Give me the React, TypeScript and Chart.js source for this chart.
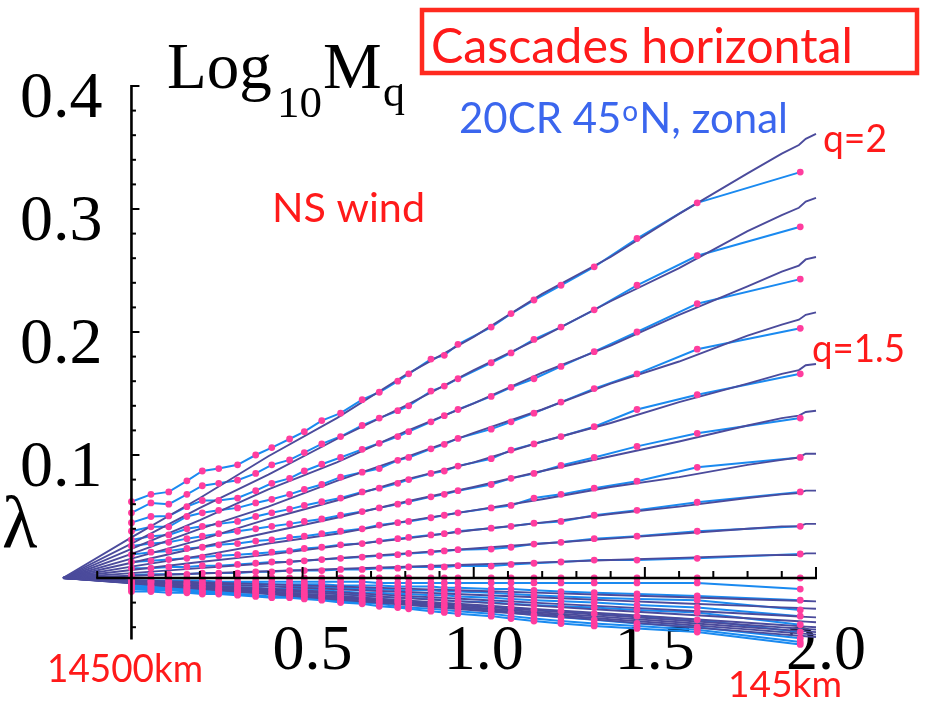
import React, { useEffect, useRef } from "react";
import { Chart, registerables } from "chart.js";

Chart.register(...registerables);

// log10(lambda) positions of the measured points (pink dots)
const X_DATA = [0, 0.057, 0.109, 0.162, 0.207, 0.255, 0.31, 0.363, 0.41, 0.462, 0.505, 0.556, 0.611, 0.674, 0.724, 0.778, 0.81, 0.875, 0.914, 0.954, 1.051, 1.109, 1.176, 1.255, 1.352, 1.477, 1.653, 1.954];
// log10(lambda) positions of the cascade-model curves (dark lines)
const X_MODEL = [-0.2, 0, 0.2, 0.4, 0.6, 0.8, 1.0, 1.2, 1.4, 1.6, 1.8, 1.9, 1.95, 1.97, 2.0];

const X_TICKS = [0.5, 1.0, 1.5, 2.0];
const Y_TICKS = [0.1, 0.2, 0.3, 0.4];

// measured log10 M_q, q = 2.0 ... 0.1
const D_Q20 = [0.062, 0.068, 0.07, 0.079, 0.087, 0.089, 0.092, 0.1, 0.106, 0.113, 0.119, 0.128, 0.134, 0.145, 0.151, 0.16, 0.166, 0.178, 0.181, 0.19, 0.204, 0.215, 0.226, 0.238, 0.253, 0.276, 0.305, 0.33];
const D_Q19 = [0.053, 0.061, 0.06, 0.068, 0.075, 0.077, 0.0795, 0.085, 0.092, 0.096, 0.102, 0.109, 0.115, 0.124, 0.13, 0.136, 0.14, 0.152, 0.156, 0.162, 0.175, 0.183, 0.194, 0.204, 0.218, 0.238, 0.262, 0.2855];
const D_Q18 = [0.045, 0.05, 0.0505, 0.058, 0.063, 0.063, 0.065, 0.071, 0.077, 0.081, 0.087, 0.0925, 0.098, 0.1046, 0.1095, 0.115, 0.119, 0.127, 0.132, 0.137, 0.1476, 0.155, 0.162, 0.172, 0.184, 0.2, 0.223, 0.243];
const D_Q17 = [0.038, 0.0416, 0.0416, 0.05, 0.053, 0.055, 0.057, 0.061, 0.064, 0.068, 0.072, 0.076, 0.082, 0.086, 0.089, 0.0957, 0.098, 0.105, 0.1087, 0.1135, 0.121, 0.127, 0.134, 0.143, 0.154, 0.166, 0.186, 0.203];
const D_Q16 = [0.031, 0.034, 0.035, 0.04, 0.042, 0.044, 0.046, 0.05, 0.053, 0.056, 0.059, 0.062, 0.065, 0.07, 0.073, 0.077, 0.08, 0.085, 0.087, 0.091, 0.097, 0.104, 0.109, 0.115, 0.123, 0.137, 0.149, 0.166];
const D_Q15 = [0.026, 0.028, 0.029, 0.032, 0.034, 0.036, 0.038, 0.04, 0.042, 0.044, 0.046, 0.048, 0.051, 0.054, 0.057, 0.06, 0.062, 0.066, 0.068, 0.071, 0.076, 0.081, 0.085, 0.0915, 0.098, 0.107, 0.1176, 0.13];
const D_Q14 = [0.019, 0.021, 0.022, 0.024, 0.025, 0.027, 0.028, 0.03, 0.031, 0.033, 0.034, 0.036, 0.038, 0.04, 0.043, 0.045, 0.046, 0.049, 0.051, 0.053, 0.057, 0.059, 0.065, 0.068, 0.073, 0.0787, 0.09, 0.098];
const D_Q13 = [0.013, 0.014, 0.015, 0.016, 0.017, 0.018, 0.019, 0.02, 0.021, 0.022, 0.024, 0.025, 0.027, 0.028, 0.03, 0.032, 0.033, 0.035, 0.036, 0.038, 0.0405, 0.042, 0.0446, 0.046, 0.051, 0.055, 0.0616, 0.07];
const D_Q12 = [0.008, 0.008, 0.009, 0.009, 0.01, 0.01, 0.011, 0.012, 0.013, 0.013, 0.014, 0.015, 0.016, 0.017, 0.018, 0.019, 0.02, 0.021, 0.022, 0.023, 0.0235, 0.025, 0.0276, 0.029, 0.032, 0.034, 0.038, 0.042];
const D_Q11 = [0.0024, 0.003, 0.003, 0.003, 0.004, 0.004, 0.004, 0.005, 0.005, 0.006, 0.006, 0.006, 0.007, 0.007, 0.008, 0.008, 0.009, 0.009, 0.009, 0.01, 0.0097, 0.011, 0.012, 0.013, 0.0146, 0.0146, 0.016, 0.0195];
const D_Q10 = [0, 0, 0, 0, 0, 0, 0, 0, 0, 0, 0, 0, 0, 0, 0, 0, 0, 0, 0, 0, 0, 0, 0, 0, 0, 0, 0, 0];
const D_Q09 = [-0.002, -0.002, -0.002, -0.002, -0.002, -0.003, -0.003, -0.003, -0.003, -0.003, -0.003, -0.003, -0.003, -0.003, -0.004, -0.004, -0.004, -0.004, -0.004, -0.004, -0.004, -0.004, -0.004, -0.004, -0.004, -0.004, -0.004, -0.009];
const D_Q08 = [-0.004, -0.004, -0.005, -0.005, -0.005, -0.006, -0.006, -0.006, -0.007, -0.007, -0.007, -0.008, -0.008, -0.009, -0.009, -0.01, -0.01, -0.01, -0.011, -0.011, -0.012, -0.013, -0.014, -0.015, -0.016, -0.017, -0.018, -0.026];
const D_Q07 = [-0.006, -0.007, -0.007, -0.008, -0.008, -0.009, -0.009, -0.01, -0.01, -0.011, -0.011, -0.012, -0.013, -0.014, -0.015, -0.016, -0.016, -0.017, -0.018, -0.019, -0.02, -0.021, -0.022, -0.023, -0.024, -0.026, -0.028, -0.038];
const D_Q06 = [-0.008, -0.009, -0.009, -0.01, -0.011, -0.011, -0.012, -0.012, -0.013, -0.014, -0.014, -0.015, -0.017, -0.018, -0.019, -0.02, -0.021, -0.022, -0.023, -0.024, -0.026, -0.028, -0.03, -0.032, -0.034, -0.037, -0.04, -0.049];
const D_Q05 = [-0.011, -0.011, -0.012, -0.012, -0.013, -0.013, -0.014, -0.015, -0.016, -0.016, -0.017, -0.018, -0.02, -0.021, -0.023, -0.024, -0.025, -0.027, -0.028, -0.029, -0.031, -0.033, -0.035, -0.037, -0.039, -0.041, -0.044, -0.054];
const D_Q04 = [-0.009, -0.01, -0.01, -0.011, -0.012, -0.012, -0.013, -0.014, -0.015, -0.015, -0.016, -0.017, -0.019, -0.02, -0.021, -0.023, -0.024, -0.025, -0.026, -0.027, -0.029, -0.031, -0.033, -0.035, -0.037, -0.039, -0.042, -0.052];
const D_Q03 = [-0.007, -0.008, -0.008, -0.009, -0.01, -0.01, -0.011, -0.011, -0.012, -0.012, -0.013, -0.014, -0.015, -0.016, -0.017, -0.018, -0.019, -0.02, -0.021, -0.022, -0.023, -0.024, -0.026, -0.027, -0.029, -0.031, -0.034, -0.044];
const D_Q02 = [-0.005, -0.006, -0.006, -0.007, -0.007, -0.008, -0.008, -0.008, -0.009, -0.009, -0.009, -0.01, -0.011, -0.012, -0.012, -0.013, -0.013, -0.014, -0.014, -0.015, -0.016, -0.017, -0.018, -0.019, -0.02, -0.022, -0.024, -0.031];
const D_Q01 = [-0.003, -0.003, -0.003, -0.004, -0.004, -0.004, -0.004, -0.004, -0.005, -0.005, -0.005, -0.005, -0.006, -0.006, -0.006, -0.007, -0.007, -0.007, -0.008, -0.008, -0.009, -0.009, -0.01, -0.011, -0.012, -0.013, -0.0146, -0.018];

// cascade model curves, q = 2.0 ... 0.1
const M_Q20 = [0, 0.033, 0.065, 0.099, 0.13, 0.165, 0.196, 0.231, 0.261, 0.296, 0.329, 0.345, 0.352, 0.357, 0.361];
const M_Q19 = [0, 0.028, 0.057, 0.084, 0.113, 0.14, 0.169, 0.196, 0.225, 0.252, 0.282, 0.295, 0.301, 0.306, 0.309];
const M_Q18 = [0, 0.0237, 0.047, 0.072, 0.094, 0.119, 0.142, 0.167, 0.189, 0.214, 0.237, 0.249, 0.254, 0.259, 0.261];
const M_Q17 = [0, 0.0196, 0.04, 0.058, 0.079, 0.098, 0.118, 0.137, 0.158, 0.176, 0.197, 0.206, 0.21, 0.214, 0.216];
const M_Q16 = [0, 0.0158, 0.031, 0.048, 0.063, 0.08, 0.094, 0.111, 0.126, 0.143, 0.158, 0.166, 0.169, 0.173, 0.174];
const M_Q15 = [0, 0.0124, 0.025, 0.037, 0.049, 0.062, 0.074, 0.087, 0.099, 0.111, 0.124, 0.13, 0.132, 0.135, 0.136];
const M_Q14 = [0, 0.0092, 0.018, 0.028, 0.036, 0.046, 0.055, 0.064, 0.074, 0.082, 0.092, 0.096, 0.098, 0.101, 0.101];
const M_Q13 = [0, 0.0065, 0.013, 0.019, 0.026, 0.032, 0.039, 0.045, 0.052, 0.058, 0.065, 0.068, 0.069, 0.071, 0.071];
const M_Q12 = [0, 0.004, 0.008, 0.012, 0.016, 0.02, 0.024, 0.028, 0.032, 0.036, 0.04, 0.042, 0.042, 0.044, 0.044];
const M_Q11 = [0, 0.0018, 0.0036, 0.0055, 0.0073, 0.0091, 0.011, 0.0127, 0.0146, 0.0164, 0.0182, 0.0188, 0.0186, 0.02, 0.02];
const M_Q10 = [0, 0, 0, 0, 0, 0, 0, 0, 0, 0, 0, 0, 0, 0, 0];
const M_Q09 = [0, -0.0017, -0.0035, -0.0052, -0.0069, -0.0086, -0.0104, -0.0121, -0.0138, -0.0155, -0.0173, -0.0181, -0.0186, -0.0187, -0.019];
const M_Q08 = [0, -0.0029, -0.0058, -0.0087, -0.0116, -0.0145, -0.0175, -0.0204, -0.0233, -0.0262, -0.0291, -0.0305, -0.0313, -0.0316, -0.032];
const M_Q07 = [0, -0.0036, -0.0073, -0.0109, -0.0145, -0.0182, -0.0218, -0.0255, -0.0291, -0.0327, -0.0364, -0.0382, -0.0391, -0.0395, -0.04];
const M_Q06 = [0, -0.0042, -0.0084, -0.0125, -0.0167, -0.0209, -0.0251, -0.0293, -0.0335, -0.0376, -0.0418, -0.0439, -0.045, -0.0454, -0.046];
const M_Q05 = [0, -0.0044, -0.0087, -0.0131, -0.0175, -0.0218, -0.0262, -0.0305, -0.0349, -0.0393, -0.0436, -0.0458, -0.0469, -0.0473, -0.048];
const M_Q04 = [0, -0.004, -0.008, -0.012, -0.016, -0.02, -0.024, -0.028, -0.032, -0.036, -0.04, -0.042, -0.043, -0.0434, -0.044];
const M_Q03 = [0, -0.0038, -0.0076, -0.0115, -0.0153, -0.0191, -0.0229, -0.0267, -0.0305, -0.0344, -0.0382, -0.0401, -0.041, -0.0414, -0.042];
const M_Q02 = [0, -0.0033, -0.0065, -0.0098, -0.0131, -0.0164, -0.0196, -0.0229, -0.0262, -0.0295, -0.0327, -0.0344, -0.0352, -0.0355, -0.036];
const M_Q01 = [0, -0.0023, -0.0045, -0.0068, -0.0091, -0.0114, -0.0136, -0.0159, -0.0182, -0.0205, -0.0227, -0.0239, -0.0244, -0.0247, -0.025];

const DATA_SERIES = [D_Q20, D_Q19, D_Q18, D_Q17, D_Q16, D_Q15, D_Q14, D_Q13, D_Q12, D_Q11, D_Q10, D_Q09, D_Q08, D_Q07, D_Q06, D_Q05, D_Q04, D_Q03, D_Q02, D_Q01];
const MODEL_SERIES = [M_Q20, M_Q19, M_Q18, M_Q17, M_Q16, M_Q15, M_Q14, M_Q13, M_Q12, M_Q11, M_Q10, M_Q09, M_Q08, M_Q07, M_Q06, M_Q05, M_Q04, M_Q03, M_Q02, M_Q01];

const C_MODEL = "#4b4b9c";
const C_DATA = "#1a8af0";
const C_DOT = "#ff3d9e";
const C_RED = "#ff1a1a";
const C_BLUE = "#3b66ee";
const SERIF = "'Liberation Serif', 'Times New Roman', serif";
const SANS = "Lato, 'Open Sans', sans-serif";

function drawText(ctx: CanvasRenderingContext2D, s: string, x: number, y: number, size: number, family: string, color: string, width?: number) {
  ctx.save();
  ctx.font = `${size}px ${family}`;
  ctx.fillStyle = color;
  ctx.textAlign = "left";
  ctx.textBaseline = "alphabetic";
  ctx.translate(x, y);
  if (width) {
    const w = ctx.measureText(s).width;
    ctx.scale(width / w, 1);
  }
  ctx.fillText(s, 0, 0);
  ctx.restore();
}

const decorPlugin = {
  id: "decor",
  afterDatasetsDraw(chart: any) {
    const { ctx } = chart;
    const xs = chart.scales.x;
    const ys = chart.scales.y;
    const px = (v: number) => xs.getPixelForValue(v);
    const py = (v: number) => ys.getPixelForValue(v);
    ctx.save();
    ctx.strokeStyle = "#000";
    ctx.lineCap = "butt";
    // horizontal axis at y = 0
    const y0 = py(0);
    ctx.lineWidth = 2.6;
    ctx.beginPath();
    ctx.moveTo(px(-0.1) - 1, y0);
    ctx.lineTo(px(2.0) + 1, y0);
    ctx.stroke();
    ctx.lineWidth = 2;
    for (let k = -1; k <= 20; k++) {
      const x = px(k / 10);
      const len = k % 5 === 0 ? 11 : 7;
      ctx.beginPath();
      ctx.moveTo(x, y0);
      ctx.lineTo(x, y0 - len);
      ctx.stroke();
    }
    // vertical axis at x = 0
    const x0 = px(0);
    ctx.lineWidth = 2.6;
    ctx.beginPath();
    ctx.moveTo(x0, py(0.4) - 1);
    ctx.lineTo(x0, py(-0.05));
    ctx.stroke();
    ctx.lineWidth = 2;
    for (let k = -2; k <= 20; k++) {
      const y = py(k * 0.02);
      const len = k % 5 === 0 ? 8 : 4.5;
      ctx.beginPath();
      ctx.moveTo(x0, y);
      ctx.lineTo(x0 + len, y);
      ctx.stroke();
    }
    ctx.restore();
  },
  afterDraw(chart: any) {
    const ctx: CanvasRenderingContext2D = chart.ctx;
    // title box
    ctx.save();
    ctx.strokeStyle = "#ff2a1f";
    ctx.lineWidth = 4.5;
    ctx.strokeRect(422, 10, 495, 63);
    ctx.restore();
    drawText(ctx, "Cascades horizontal", 431, 63, 49, SANS, C_RED, 422);

    // subtitle with superscript
    ctx.save();
    ctx.fillStyle = C_BLUE;
    ctx.textBaseline = "alphabetic";
    ctx.font = `42px ${SANS}`;
    const s1 = "20CR 45";
    const s3 = "N, zonal";
    const w1 = ctx.measureText(s1).width;
    const w3 = ctx.measureText(s3).width;
    ctx.font = `28px ${SANS}`;
    const w2 = ctx.measureText("o").width + 2;
    const sx = 329 / (w1 + w2 + w3);
    ctx.translate(459, 133);
    ctx.scale(sx, 1);
    ctx.font = `42px ${SANS}`;
    ctx.fillText(s1, 0, 0);
    ctx.font = `28px ${SANS}`;
    ctx.fillText("o", w1 + 1, -12);
    ctx.font = `42px ${SANS}`;
    ctx.fillText(s3, w1 + w2, 0);
    ctx.restore();

    drawText(ctx, "NS wind", 272, 222, 40, SANS, C_RED, 153);
    drawText(ctx, "q=2", 823, 152, 38, SANS, C_RED, 64);
    drawText(ctx, "q=1.5", 812, 362, 38, SANS, C_RED, 93);
    drawText(ctx, "14500km", 47, 682, 38, SANS, C_RED, 156);
    drawText(ctx, "145km", 728, 697, 37, SANS, C_RED, 114);

    // axis titles
    drawText(ctx, "Log", 167, 88, 65, SERIF, "#000");
    drawText(ctx, "10", 277, 117, 45, SERIF, "#000");
    drawText(ctx, "M", 323, 88, 66, SERIF, "#000");
    drawText(ctx, "q", 383, 106, 44, SERIF, "#000");
    drawText(ctx, "\u03bb", 2, 547, 73, SERIF, "#000");
  },
};

export default function App() {
  const canvasRef = useRef<HTMLCanvasElement | null>(null);

  useEffect(() => {
    const canvas = canvasRef.current;
    if (!canvas) return;
    const datasets: any[] = [];
    DATA_SERIES.forEach((series, k) => {
      const pts = X_DATA.map((x, i) => ({ x, y: series[i] }));
      datasets.push({
        label: `data ${k}`,
        data: pts,
        borderColor: C_DATA,
        borderWidth: 2,
        pointRadius: 0,
        tension: 0,
        fill: false,
        order: 3,
        clip: false,
      });
      datasets.push({
        label: `dots ${k}`,
        data: pts,
        showLine: false,
        pointRadius: 3.4,
        pointBackgroundColor: C_DOT,
        pointBorderWidth: 0,
        pointBorderColor: C_DOT,
        order: 1,
        clip: false,
      });
    });
    MODEL_SERIES.forEach((series, k) => {
      datasets.push({
        label: `model ${k}`,
        data: X_MODEL.map((x, i) => ({ x, y: series[i] })),
        borderColor: C_MODEL,
        borderWidth: 1.9,
        pointRadius: 0,
        tension: 0,
        fill: false,
        order: 2,
        clip: false,
      });
    });

    const chart = new Chart(canvas, {
      type: "line",
      data: { datasets },
      options: {
        animation: false,
        responsive: false,
        devicePixelRatio: 1,
        events: [],
        layout: { padding: { left: 63, right: 110, top: 86, bottom: 52.2 } },
        plugins: { legend: { display: false }, tooltip: { enabled: false }, title: { display: false } },
        scales: {
          x: {
            type: "linear",
            position: "bottom",
            min: -0.2,
            max: 2.0,
            grid: { display: false, drawTicks: false },
            border: { display: false },
            afterBuildTicks: (scale: any) => {
              scale.ticks = X_TICKS.map((v) => ({ value: v }));
            },
            afterFit: (scale: any) => {
              scale.height = 0;
            },
            ticks: {
              autoSkip: false,
              maxRotation: 0,
              minRotation: 0,
              mirror: true,
              padding: -38.6,
              labelOffset: 10,
              color: "#000",
              font: { family: SERIF, size: 64 },
              callback: (v: any) => Number(v).toFixed(1),
            },
          },
          y: {
            type: "linear",
            position: "left",
            min: -0.06,
            max: 0.4,
            grid: { display: false, drawTicks: false },
            border: { display: false },
            afterBuildTicks: (scale: any) => {
              scale.ticks = Y_TICKS.map((v) => ({ value: v }));
            },
            afterFit: (scale: any) => {
              scale.width = 0;
            },
            ticks: {
              autoSkip: false,
              mirror: true,
              padding: -43,
              labelOffset: 14,
              color: "#000",
              font: { family: SERIF, size: 66 },
              callback: (v: any) => Number(v).toFixed(1),
            },
          },
        },
      },
      plugins: [decorPlugin],
    } as any);
    return () => chart.destroy();
  }, []);

  return (
    <div style={{ position: "fixed", left: 0, top: 0, width: 926, height: 704, background: "#fff" }}>
      <canvas ref={canvasRef} width={926} height={704} style={{ width: 926, height: 704, display: "block" }} />
    </div>
  );
}
